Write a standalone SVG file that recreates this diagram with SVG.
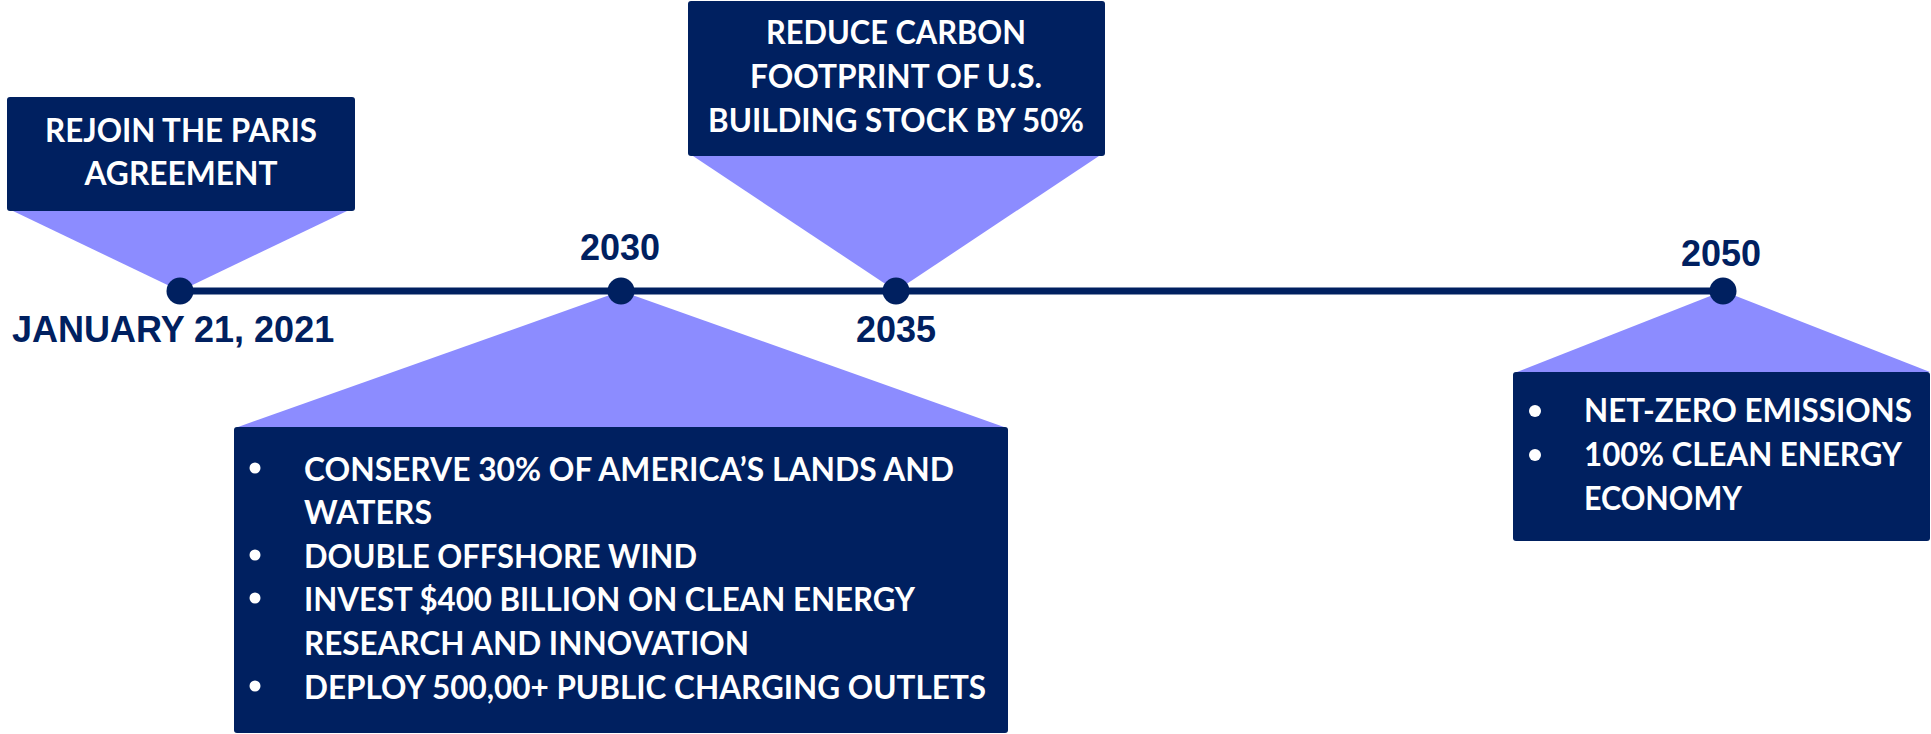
<svg xmlns="http://www.w3.org/2000/svg" width="1931" height="734" viewBox="0 0 1931 734">
<style>
.box{fill:#002060;}
.tri{fill:#8C8CFF;}
.dot{fill:#002060;}
.date{font-family:"Liberation Sans",Arial,sans-serif;font-weight:bold;font-size:36px;fill:#002060;}
.t{font-family:Lato,"Open Sans",sans-serif;font-weight:bold;font-size:32px;fill:#ffffff;}
.c{text-anchor:middle;}
.b{fill:#ffffff;}
</style>
<rect width="1931" height="734" fill="#ffffff"/>
<g id="connectors">
<polygon class="tri" points="180,291 13,211 347,211"/>
<polygon class="tri" points="621,291 238,427 1004,427"/>
<polygon class="tri" points="896,291 693,156 1099,156"/>
<polygon class="tri" points="1723,291 1517,372 1930,372"/>
<line x1="180" y1="291" x2="1723" y2="291" stroke="#002060" stroke-width="7"/>
</g>
<g id="node-2021">
<circle class="dot" cx="180" cy="291" r="13.5"/>
<text class="date" x="12" y="342">JANUARY 21, 2021</text>
<rect class="box" x="7" y="97" width="348" height="114" rx="3"/>
<text class="t c" x="181" y="142" textLength="272" lengthAdjust="spacingAndGlyphs">REJOIN THE PARIS</text>
<text class="t c" x="181" y="185" textLength="193" lengthAdjust="spacingAndGlyphs">AGREEMENT</text>
</g>
<g id="node-2030">
<circle class="dot" cx="621" cy="291" r="13.5"/>
<text class="date c" x="620" y="260">2030</text>
<rect class="box" x="234" y="427" width="774" height="306" rx="3"/>
<circle class="b" cx="255" cy="468" r="5.5"/>
<circle class="b" cx="255" cy="555" r="5.5"/>
<circle class="b" cx="255" cy="598" r="5.5"/>
<circle class="b" cx="255" cy="686" r="5.5"/>
<text class="t" x="304" y="481" textLength="650" lengthAdjust="spacingAndGlyphs">CONSERVE 30% OF AMERICA’S LANDS AND</text>
<text class="t" x="304" y="524" textLength="128" lengthAdjust="spacingAndGlyphs">WATERS</text>
<text class="t" x="304" y="568" textLength="393" lengthAdjust="spacingAndGlyphs">DOUBLE OFFSHORE WIND</text>
<text class="t" x="304" y="611" textLength="611" lengthAdjust="spacingAndGlyphs">INVEST $400 BILLION ON CLEAN ENERGY</text>
<text class="t" x="304" y="655" textLength="445" lengthAdjust="spacingAndGlyphs">RESEARCH AND INNOVATION</text>
<text class="t" x="304" y="699" textLength="682" lengthAdjust="spacingAndGlyphs">DEPLOY 500,00+ PUBLIC CHARGING OUTLETS</text>
</g>
<g id="node-2035">
<circle class="dot" cx="896" cy="291" r="13.5"/>
<text class="date c" x="896" y="342">2035</text>
<rect class="box" x="688" y="1" width="417" height="155" rx="3"/>
<text class="t c" x="896" y="44" textLength="260" lengthAdjust="spacingAndGlyphs">REDUCE CARBON</text>
<text class="t c" x="896" y="88" textLength="292" lengthAdjust="spacingAndGlyphs">FOOTPRINT OF U.S.</text>
<text class="t c" x="896" y="132" textLength="376" lengthAdjust="spacingAndGlyphs">BUILDING STOCK BY 50%</text>
</g>
<g id="node-2050">
<circle class="dot" cx="1723" cy="291" r="13.5"/>
<text class="date c" x="1721" y="266">2050</text>
<rect class="box" x="1513" y="372" width="417" height="169" rx="3"/>
<circle class="b" cx="1535" cy="411" r="6"/>
<circle class="b" cx="1535" cy="455" r="6"/>
<text class="t" x="1584" y="422" textLength="328" lengthAdjust="spacingAndGlyphs">NET-ZERO EMISSIONS</text>
<text class="t" x="1584" y="466" textLength="318" lengthAdjust="spacingAndGlyphs">100% CLEAN ENERGY</text>
<text class="t" x="1584" y="510" textLength="158" lengthAdjust="spacingAndGlyphs">ECONOMY</text>
</g>
</svg>
